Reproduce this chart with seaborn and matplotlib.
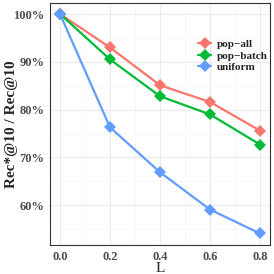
import numpy as np
import pandas as pd
import matplotlib
matplotlib.use("Agg")
import matplotlib.pyplot as plt
from matplotlib.ticker import MultipleLocator, FuncFormatter
import seaborn as sns

# data
L_values = [0.0, 0.2, 0.4, 0.6, 0.8]
pop_all = [100.0, 93.0, 85.1, 81.6, 75.6]
pop_batch = [100.0, 90.5, 82.8, 79.0, 72.7]
uniform = [100.0, 76.3, 66.9, 59.1, 54.1]
series_names = ["pop\u2212all", "pop\u2212batch", "uniform"]
colors = ["#F8766D", "#00BA38", "#619CFF"]

df = pd.DataFrame({
    "L": L_values * 3,
    "ratio": pop_all + pop_batch + uniform,
    "method": np.repeat(series_names, len(L_values)),
})

sns.set_theme(style="whitegrid")
plt.rcParams["font.family"] = ["Liberation Serif", "DejaVu Serif"]

fig = plt.figure(figsize=(2.74, 2.74), dpi=100)
ax = fig.add_axes([0.1825, 0.106, 0.803, 0.883])

sns.lineplot(
    data=df, x="L", y="ratio", hue="method", palette=colors,
    marker="D", markersize=6, markeredgewidth=0, linewidth=1.6, ax=ax,
)

ax.set_xlim(-0.04, 0.84)
ax.set_ylim(51.7, 102.3)
ax.xaxis.set_major_locator(MultipleLocator(0.2))
ax.xaxis.set_minor_locator(MultipleLocator(0.1))
ax.yaxis.set_major_locator(MultipleLocator(10))
ax.yaxis.set_minor_locator(MultipleLocator(5))
ax.xaxis.set_major_formatter(FuncFormatter(lambda v, p: f"{v:.1f}"))
ax.yaxis.set_major_formatter(FuncFormatter(lambda v, p: f"{v:.0f}%"))

ax.grid(which="major", color="#EBEBEB", linewidth=0.8)
ax.grid(which="minor", color="#F4F4F4", linewidth=0.5)
ax.set_facecolor("white")
for side in ["top", "right", "left", "bottom"]:
    ax.spines[side].set_visible(True)
    ax.spines[side].set_color("#333333")
    ax.spines[side].set_linewidth(0.8)

ax.tick_params(axis="both", which="major", length=2.5, width=0.6, color="#333333",
               labelsize=9, labelcolor="#4D4D4D", pad=1.5)
ax.tick_params(axis="both", which="minor", length=0)
for lab in ax.get_xticklabels() + ax.get_yticklabels():
    lab.set_fontweight("bold")

ax.set_xlabel("L", fontsize=11, va="center")
ax.set_ylabel("Rec*@10 / Rec@10", fontsize=11, fontweight="bold", va="center")
ax.xaxis.set_label_coords(0.5, -0.098)
ax.yaxis.set_label_coords(-0.177, 0.5)

leg = ax.legend(
    title=None, loc="upper right", bbox_to_anchor=(0.99, 0.85), frameon=False,
    fontsize=8, handlelength=1.2, handletextpad=0.5, labelspacing=0.15,
    borderpad=0, borderaxespad=0,
)
for txt in leg.get_texts():
    txt.set_fontweight("bold")

fig.savefig("out.png", dpi=100)
